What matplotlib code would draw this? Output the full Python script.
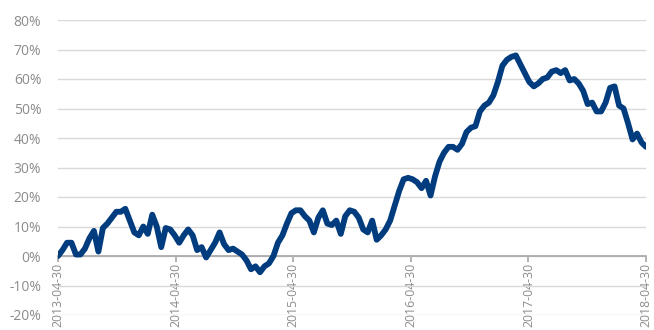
import pandas as pd
import matplotlib
matplotlib.use("Agg")
import matplotlib.pyplot as plt
import matplotlib.dates as mdates
from matplotlib.ticker import FuncFormatter, MultipleLocator

# cumulative return (%), every two weeks
start = "2013-04-30"
end = "2018-04-30"
values = [
    0, 2, 4.5, 4.5, 0.5, 0.5, 2.5, 6, 8.5, 1.5,
    9.5, 11, 13, 15, 15, 16, 12, 8, 7, 10,
    7.5, 14, 10, 3, 9.5, 9, 7, 4.5, 7, 9,
    7, 2, 3, -0.5, 2, 4.5, 8, 4, 2, 2.5,
    1.5, 0.5, -1.5, -4.5, -3.5, -5.5, -3.5, -2.5, 0, 4.5,
    7, 11, 14.5, 15.5, 15.5, 13.5, 12, 8, 13, 15.5,
    11, 10.5, 12, 7.5, 13.5, 15.5, 15, 13, 9, 8,
    12, 5.5, 7, 9, 12, 17, 22, 26, 26.5, 26,
    25, 23, 25.5, 20.5, 27, 32, 35, 37, 37, 36,
    38, 42, 43.5, 44, 49, 51, 52, 54.5, 59, 64.5,
    66.5, 67.5, 68, 65, 62, 59, 57.5, 58.5, 60, 60.5,
    62.5, 63, 62, 63, 59.5, 60, 58.5, 56, 51.5, 52,
    49, 49, 52, 57, 57.5, 51, 50, 45, 39.5, 41.5,
    38.5, 37,
]
dates = pd.date_range(start, end, periods=len(values))
tick_dates = pd.to_datetime(["2013-04-30", "2014-04-30", "2015-04-30",
                             "2016-04-30", "2017-04-30", "2018-04-30"])

plt.rcParams['font.family'] = ['Open Sans', 'DejaVu Sans']
grey = '#8C8C8C'

fig = plt.figure(figsize=(6.54, 3.30), dpi=100)
ax = fig.add_axes([58 / 654, 1 - 315 / 330, 588 / 654, 295 / 330])

ax.plot(dates, values, color='#003C7E', lw=4.2, solid_capstyle='round',
        solid_joinstyle='round', zorder=3)

ax.set_ylim(-20, 80)
ax.set_xlim(tick_dates[0], tick_dates[-1])
ax.yaxis.set_major_locator(MultipleLocator(10))
ax.yaxis.set_major_formatter(FuncFormatter(lambda v, p: f"{v:.0f}%"))
ax.grid(axis='y', color='#D9D9D9', lw=1)
ax.set_axisbelow(True)

ax.set_xticks(tick_dates)
ax.xaxis.set_major_formatter(mdates.DateFormatter('%Y-%m-%d'))

for s in ['top', 'right', 'left']:
    ax.spines[s].set_visible(False)
ax.spines['bottom'].set_position(('data', 0))
ax.spines['bottom'].set_color('#A6A6A6')
ax.spines['bottom'].set_linewidth(1.2)

ax.tick_params(axis='y', length=0, pad=12, labelsize=10, labelcolor=grey)
ax.tick_params(axis='x', length=4, width=1.2, color='#A6A6A6', pad=1,
               labelsize=8.8, labelcolor=grey, labelrotation=90)

fig.savefig('out.png', dpi=100)
